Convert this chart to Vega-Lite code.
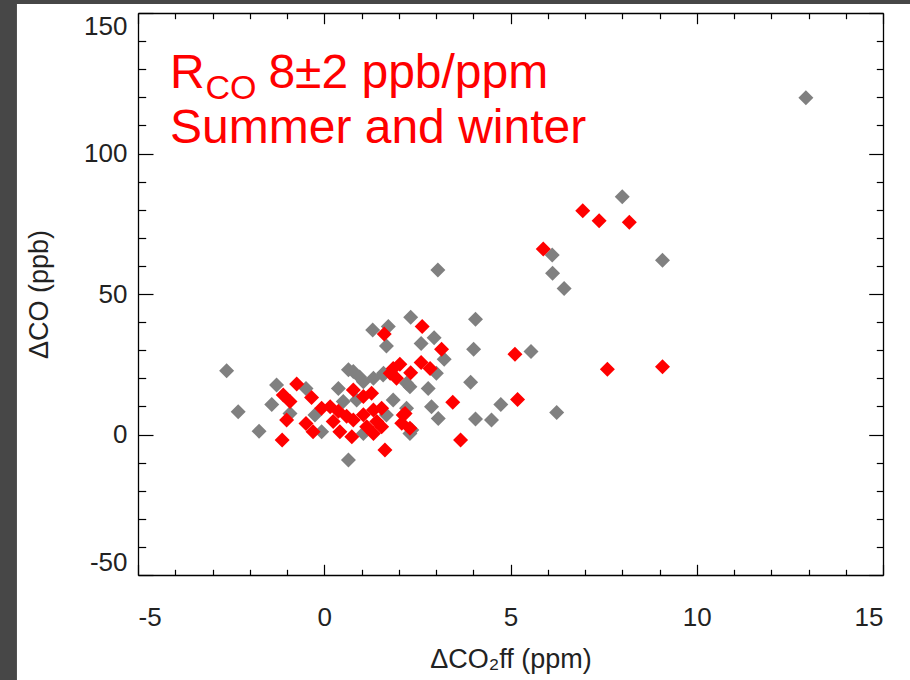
{
  "$schema": "https://vega.github.io/schema/vega-lite/v6.json",
  "width": 745,
  "height": 562,
  "autosize": "none",
  "padding": {"left": 138, "top": 13, "right": 27, "bottom": 105},
  "background": "#474747",
  "config": {
    "view": {"stroke": null},
    "axis": {
      "grid": false,
      "domainColor": "#000000",
      "domainWidth": 1.3,
      "tickColor": "#000000",
      "tickWidth": 1.2,
      "labelFont": "Liberation Sans",
      "labelFontSize": 26,
      "labelColor": "#222222",
      "titleFont": "Liberation Sans",
      "titleFontSize": 27,
      "titleFontWeight": "normal",
      "titleColor": "#222222"
    }
  },
  "datasets": {
    "points": [
      {"group": "A", "dco2ff": -2.62, "dco": 22.7},
      {"group": "A", "dco2ff": -2.31, "dco": 8.1},
      {"group": "A", "dco2ff": -1.75, "dco": 1.2},
      {"group": "A", "dco2ff": -1.41, "dco": 10.7},
      {"group": "A", "dco2ff": -1.28, "dco": 17.6},
      {"group": "A", "dco2ff": -0.49, "dco": 16.4},
      {"group": "A", "dco2ff": -0.92, "dco": 7.5},
      {"group": "A", "dco2ff": -0.25, "dco": 6.9},
      {"group": "A", "dco2ff": -0.07, "dco": 1.0},
      {"group": "A", "dco2ff": 0.65, "dco": 23.0},
      {"group": "A", "dco2ff": 0.78, "dco": 22.4},
      {"group": "A", "dco2ff": 0.95, "dco": 20.5},
      {"group": "A", "dco2ff": 1.05, "dco": 18.8},
      {"group": "A", "dco2ff": 1.32, "dco": 20.0},
      {"group": "A", "dco2ff": 1.59, "dco": 21.8},
      {"group": "A", "dco2ff": 0.38, "dco": 16.4},
      {"group": "A", "dco2ff": 2.21, "dco": 18.2},
      {"group": "A", "dco2ff": 0.51, "dco": 11.7},
      {"group": "A", "dco2ff": 1.85, "dco": 12.3},
      {"group": "A", "dco2ff": 0.87, "dco": 12.3},
      {"group": "A", "dco2ff": 2.21, "dco": 9.3},
      {"group": "A", "dco2ff": 1.67, "dco": 6.9},
      {"group": "A", "dco2ff": 1.05, "dco": 0.4},
      {"group": "A", "dco2ff": 2.35, "dco": 1.6},
      {"group": "A", "dco2ff": 2.30, "dco": 0.4},
      {"group": "A", "dco2ff": 0.65, "dco": -9.1},
      {"group": "A", "dco2ff": 2.32, "dco": 41.7},
      {"group": "A", "dco2ff": 1.30, "dco": 37.2},
      {"group": "A", "dco2ff": 1.72, "dco": 38.4},
      {"group": "A", "dco2ff": 1.67, "dco": 31.5},
      {"group": "A", "dco2ff": 2.95, "dco": 34.4},
      {"group": "A", "dco2ff": 2.60, "dco": 32.4},
      {"group": "A", "dco2ff": 3.22, "dco": 26.8},
      {"group": "A", "dco2ff": 3.01, "dco": 21.8},
      {"group": "A", "dco2ff": 1.58, "dco": 21.2},
      {"group": "A", "dco2ff": 3.93, "dco": 18.6},
      {"group": "A", "dco2ff": 2.79, "dco": 16.4},
      {"group": "A", "dco2ff": 2.30, "dco": 17.0},
      {"group": "A", "dco2ff": 4.74, "dco": 10.7},
      {"group": "A", "dco2ff": 2.88, "dco": 9.9},
      {"group": "A", "dco2ff": 3.06, "dco": 5.7},
      {"group": "A", "dco2ff": 4.06, "dco": 5.5},
      {"group": "A", "dco2ff": 4.49, "dco": 5.2},
      {"group": "A", "dco2ff": 6.24, "dco": 7.8},
      {"group": "A", "dco2ff": 4.06, "dco": 41.0},
      {"group": "A", "dco2ff": 4.01, "dco": 30.3},
      {"group": "A", "dco2ff": 5.55, "dco": 29.5},
      {"group": "A", "dco2ff": 3.05, "dco": 58.5},
      {"group": "A", "dco2ff": 6.12, "dco": 63.9},
      {"group": "A", "dco2ff": 6.13, "dco": 57.4},
      {"group": "A", "dco2ff": 6.44, "dco": 52.0},
      {"group": "A", "dco2ff": 8.0, "dco": 84.6},
      {"group": "A", "dco2ff": 9.08, "dco": 62.0},
      {"group": "A", "dco2ff": 12.93, "dco": 119.8},
      {"group": "B", "dco2ff": -0.74, "dco": 18.0},
      {"group": "B", "dco2ff": -1.10, "dco": 14.1},
      {"group": "B", "dco2ff": -0.92, "dco": 11.7},
      {"group": "B", "dco2ff": -0.34, "dco": 13.2},
      {"group": "B", "dco2ff": -1.01, "dco": 5.2},
      {"group": "B", "dco2ff": -1.13, "dco": -2.0},
      {"group": "B", "dco2ff": -0.07, "dco": 9.3},
      {"group": "B", "dco2ff": -0.49, "dco": 3.9},
      {"group": "B", "dco2ff": -0.30, "dco": 1.0},
      {"group": "B", "dco2ff": 0.78, "dco": 15.8},
      {"group": "B", "dco2ff": 1.05, "dco": 13.5},
      {"group": "B", "dco2ff": 1.27, "dco": 14.7},
      {"group": "B", "dco2ff": 0.16, "dco": 9.9},
      {"group": "B", "dco2ff": 2.12, "dco": 6.9},
      {"group": "B", "dco2ff": 0.38, "dco": 8.3},
      {"group": "B", "dco2ff": 0.60, "dco": 6.5},
      {"group": "B", "dco2ff": 0.24, "dco": 4.6},
      {"group": "B", "dco2ff": 0.78, "dco": 5.2},
      {"group": "B", "dco2ff": 1.05, "dco": 7.0},
      {"group": "B", "dco2ff": 1.32, "dco": 8.7},
      {"group": "B", "dco2ff": 1.54, "dco": 9.3},
      {"group": "B", "dco2ff": 1.41, "dco": 4.6},
      {"group": "B", "dco2ff": 0.42, "dco": 1.0},
      {"group": "B", "dco2ff": 0.74, "dco": -0.8},
      {"group": "B", "dco2ff": 1.14, "dco": 2.8},
      {"group": "B", "dco2ff": 1.54, "dco": 2.8},
      {"group": "B", "dco2ff": 1.32, "dco": 0.4},
      {"group": "B", "dco2ff": 2.08, "dco": 4.0},
      {"group": "B", "dco2ff": 1.63, "dco": -5.5},
      {"group": "B", "dco2ff": 1.61, "dco": 35.8},
      {"group": "B", "dco2ff": 2.63, "dco": 38.4},
      {"group": "B", "dco2ff": 3.15, "dco": 30.3},
      {"group": "B", "dco2ff": 2.60, "dco": 25.6},
      {"group": "B", "dco2ff": 2.84, "dco": 23.5},
      {"group": "B", "dco2ff": 2.32, "dco": 22.0},
      {"group": "B", "dco2ff": 2.03, "dco": 25.0},
      {"group": "B", "dco2ff": 1.85, "dco": 23.5},
      {"group": "B", "dco2ff": 1.77, "dco": 21.8},
      {"group": "B", "dco2ff": 1.94, "dco": 20.0},
      {"group": "B", "dco2ff": 3.45, "dco": 11.5},
      {"group": "B", "dco2ff": 5.19, "dco": 12.5},
      {"group": "B", "dco2ff": 2.17, "dco": 7.5},
      {"group": "B", "dco2ff": 2.30, "dco": 2.2},
      {"group": "B", "dco2ff": 3.66, "dco": -2.0},
      {"group": "B", "dco2ff": 5.12, "dco": 28.6},
      {"group": "B", "dco2ff": 5.88, "dco": 66.0},
      {"group": "B", "dco2ff": 6.94, "dco": 79.6},
      {"group": "B", "dco2ff": 7.38, "dco": 76.1},
      {"group": "B", "dco2ff": 8.19, "dco": 75.5},
      {"group": "B", "dco2ff": 7.60, "dco": 23.2},
      {"group": "B", "dco2ff": 9.08, "dco": 24.1}
    ]
  },
  "layer": [
    {
      "description": "White page on the dark frame, drawn under everything else",
      "data": {"values": [{}]},
      "mark": {"type": "rect", "fill": "#ffffff"},
      "encoding": {
        "x": {"datum": -8.25, "type": "quantitative", "axis": null},
        "x2": {"datum": 16},
        "y": {"datum": 153.2, "type": "quantitative", "axis": null},
        "y2": {"datum": -90}
      }
    },
    {
      "data": {"name": "points"},
      "mark": {"type": "point", "shape": "diamond", "filled": true, "opacity": 1, "size": 225, "strokeWidth": 0},
      "encoding": {
        "x": {
          "field": "dco2ff", "type": "quantitative",
          "scale": {"domain": [-5, 15], "nice": false, "zero": false},
          "axis": {
            "zindex": 1, "orient": "bottom", "values": [-5, 0, 5, 10, 15], "labelExpr": "'' + datum.value",
            "tickSize": -10.7, "labelPadding": 40, "title": "ΔCO₂ff (ppm)", "titlePadding": 16
          }
        },
        "y": {
          "field": "dco", "type": "quantitative",
          "scale": {"domain": [-50, 150], "nice": false, "zero": false},
          "axis": {
            "zindex": 1, "orient": "left", "values": [-50, 0, 50, 100, 150], "labelExpr": "'' + datum.value",
            "tickSize": -15, "labelPadding": 26, "labelFlush": true,
            "title": "ΔCO (ppb)", "titlePadding": 30
          }
        },
        "color": {
          "field": "group", "type": "nominal",
          "scale": {"domain": ["A", "B"], "range": ["#808080", "#ff0000"]},
          "legend": null
        }
      }
    },
    {
      "data": {"values": [{}]},
      "mark": {"type": "text", "text": "R", "align": "left", "baseline": "alphabetic", "font": "Liberation Sans", "fontSize": 48, "color": "#ff0000"},
      "encoding": {
        "x": {
          "datum": -4.14, "type": "quantitative",
          "axis": {"zindex": 1, "orient": "top", "values": [-5, 0, 5, 10, 15], "tickSize": -10.7, "labels": false, "title": null}
        },
        "y": {
          "datum": 123.3, "type": "quantitative",
          "axis": {"zindex": 1, "orient": "right", "values": [-50, 0, 50, 100, 150], "tickSize": -14.3, "labels": false, "title": null}
        }
      }
    },
    {
      "data": {"values": [{}]},
      "mark": {"type": "text", "text": "CO", "align": "left", "baseline": "alphabetic", "font": "Liberation Sans", "fontSize": 34, "color": "#ff0000"},
      "encoding": {
        "x": {
          "datum": -3.19, "type": "quantitative",
          "axis": {"zindex": 1, "orient": "bottom", "values": [-4, -3, -2, -1, 1, 2, 3, 4, 6, 7, 8, 9, 11, 12, 13, 14], "tickSize": -5.7, "labels": false, "domain": false, "title": null}
        },
        "y": {
          "datum": 119.4, "type": "quantitative",
          "axis": {"zindex": 1, "orient": "left", "values": [-40, -30, -20, -10, 10, 20, 30, 40, 60, 70, 80, 90, 110, 120, 130, 140], "tickSize": -7.7, "labels": false, "domain": false, "title": null}
        }
      }
    },
    {
      "data": {"values": [{}]},
      "mark": {"type": "text", "text": "8±2 ppb/ppm", "align": "left", "baseline": "alphabetic", "font": "Liberation Sans", "fontSize": 48, "color": "#ff0000"},
      "encoding": {
        "x": {
          "datum": -1.50, "type": "quantitative",
          "axis": {"zindex": 1, "orient": "top", "values": [-4, -3, -2, -1, 1, 2, 3, 4, 6, 7, 8, 9, 11, 12, 13, 14], "tickSize": -5.7, "labels": false, "domain": false, "title": null}
        },
        "y": {
          "datum": 123.3, "type": "quantitative",
          "axis": {"zindex": 1, "orient": "right", "values": [-40, -30, -20, -10, 10, 20, 30, 40, 60, 70, 80, 90, 110, 120, 130, 140], "tickSize": -6.7, "labels": false, "domain": false, "title": null}
        }
      }
    },
    {
      "data": {"values": [{}]},
      "mark": {"type": "text", "text": "Summer and winter", "align": "left", "baseline": "alphabetic", "font": "Liberation Sans", "fontSize": 48, "color": "#ff0000"},
      "encoding": {
        "x": {"datum": -4.14, "type": "quantitative", "axis": null},
        "y": {"datum": 103.7, "type": "quantitative", "axis": null}
      }
    }
  ],
  "resolve": {"axis": {"x": "independent", "y": "independent"}}
}
